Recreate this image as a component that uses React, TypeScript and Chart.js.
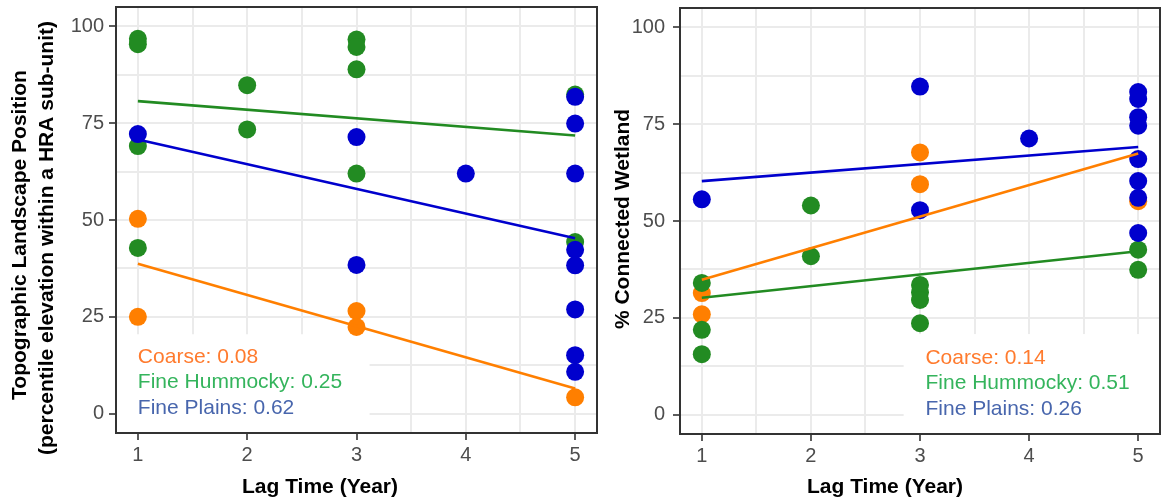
import React, { useEffect, useRef } from 'react';
import { Chart, registerables } from 'chart.js';

Chart.register(...registerables);

// ---- shared axes -------------------------------------------------------
const xMajorTicks = [1, 2, 3, 4, 5];
const xTickLabels = ['1', '2', '3', '4', '5'];
const xMinorTicks = [1.5, 2.5, 3.5, 4.5];
const yMajorTicks = [0, 25, 50, 75, 100];
const yTickLabels = ['0', '25', '50', '75', '100'];
const yMinorTicks = [12.5, 37.5, 62.5, 87.5];
const xTitle = 'Lag Time (Year)';

const groupNames = ['Coarse', 'Fine Hummocky', 'Fine Plains'];
const pointColors = ['#ff7f00', '#228b22', '#0000cd'];
const labelColors = ['#ff7b2e', '#34b45c', '#4866ad'];
const labelYValues = [14.7, 8.0, 1.4];

// ---- topographic landscape position -----------------------------------
const topoCoarseLag = [1, 1, 3, 3, 5];
const topoCoarseValue = [50.3, 25.0, 26.5, 22.4, 4.2];
const topoHummockyLag = [1, 1, 1, 1, 2, 2, 3, 3, 3, 3, 5, 5];
const topoHummockyValue = [96.8, 95.4, 69.1, 42.8, 84.8, 73.4, 96.6, 94.7, 88.9, 62.0, 82.4, 44.3];
const topoPlainsLag = [1, 3, 3, 4, 5, 5, 5, 5, 5, 5, 5, 5];
const topoPlainsValue = [72.2, 71.4, 38.4, 62.0, 81.8, 74.9, 62.0, 42.3, 38.3, 26.9, 15.1, 10.8];
const topoFitAtLag1 = [38.7, 80.7, 70.8];
const topoFitAtLag5 = [6.5, 71.8, 45.3];
const topoR2 = ['0.08', '0.25', '0.62'];
const topoYTitle = ['Topographic Landscape Position', '(percentile elevation within a HRA sub-unit)'];

// ---- connected wetland --------------------------------------------------
const wetCoarseLag = [1, 1, 3, 3, 5];
const wetCoarseValue = [31.4, 25.9, 67.7, 59.5, 55.1];
const wetHummockyLag = [1, 1, 1, 2, 2, 3, 3, 3, 3, 5, 5];
const wetHummockyValue = [34.0, 21.9, 15.6, 54.0, 40.9, 33.5, 31.6, 29.6, 23.6, 42.6, 37.4];
const wetPlainsLag = [1, 3, 3, 4, 5, 5, 5, 5, 5, 5, 5, 5];
const wetPlainsValue = [55.6, 84.7, 52.8, 71.3, 83.3, 81.5, 76.8, 74.6, 66.0, 60.3, 56.0, 46.9];
const wetFitAtLag1 = [34.8, 30.2, 60.3];
const wetFitAtLag5 = [67.4, 42.2, 69.1];
const wetR2 = ['0.14', '0.51', '0.26'];
const wetYTitle = ['% Connected Wetland'];

const FONT = '"Liberation Sans", Arial, Helvetica, sans-serif';
const GRID = '#ebebeb';
const FRAME = '#333333';
const HEIGHT = 501;

type TitleLine = { text: string; baselineX: number; centerY: number };

type PanelDef = {
  left: number;
  width: number;
  areaLeft: number;
  areaRight: number;
  areaTop: number;
  areaBottom: number;
  yTickPadding: number;
  lags: number[][];
  values: number[][];
  fit1: number[];
  fit5: number[];
  r2: string[];
  labelX: number;
  box: { xMin: number; xMax: number; yMax: number };
  yTitle: TitleLine[];
  xTitleCenter: number;
};

const panels: PanelDef[] = [
  {
    left: 0,
    width: 600,
    areaLeft: 116,
    areaRight: 597,
    areaTop: 7,
    areaBottom: 433,
    yTickPadding: 5,
    lags: [topoCoarseLag, topoHummockyLag, topoPlainsLag],
    values: [topoCoarseValue, topoHummockyValue, topoPlainsValue],
    fit1: topoFitAtLag1,
    fit5: topoFitAtLag5,
    r2: topoR2,
    labelX: 1,
    box: { xMin: 0.8, xMax: 3.12, yMax: 20.5 },
    yTitle: [
      { text: topoYTitle[0], baselineX: 26, centerY: 235 },
      { text: topoYTitle[1], baselineX: 52.5, centerY: 238 },
    ],
    xTitleCenter: 320,
  },
  {
    left: 600,
    width: 561,
    areaLeft: 80,
    areaRight: 560,
    areaTop: 8,
    areaBottom: 434,
    yTickPadding: 8,
    lags: [wetCoarseLag, wetHummockyLag, wetPlainsLag],
    values: [wetCoarseValue, wetHummockyValue, wetPlainsValue],
    fit1: wetFitAtLag1,
    fit5: wetFitAtLag5,
    r2: wetR2,
    labelX: 3.05,
    box: { xMin: 2.85, xMax: 5.2, yMax: 20.8 },
    yTitle: [{ text: wetYTitle[0], baselineX: 29, centerY: 219 }],
    xTitleCenter: 285,
  },
];

function isMajor(list: number[], v: number) {
  return list.some((m) => Math.abs(m - v) < 1e-6);
}

function Panel({ def }: { def: PanelDef }) {
  const canvasRef = useRef<HTMLCanvasElement | null>(null);

  useEffect(() => {
    const canvas = canvasRef.current;
    if (!canvas) return;

    // fitted lines first (drawn on top), then blue, green, orange points
    const fitSets = [0, 1, 2].map((g) => ({
      label: groupNames[g] + ' fit',
      data: [
        { x: 1, y: def.fit1[g] },
        { x: 5, y: def.fit5[g] },
      ],
      showLine: true,
      borderColor: pointColors[g],
      borderWidth: 2.6,
      pointRadius: 0,
      fill: false,
      order: 0,
    }));
    const pointSets = [0, 1, 2].map((g) => ({
      label: groupNames[g],
      data: def.lags[g].map((x, i) => ({ x, y: def.values[g][i] })),
      showLine: false,
      backgroundColor: pointColors[g],
      borderColor: pointColors[g],
      borderWidth: 0,
      pointRadius: 9,
      order: 3 - g,
    }));

    const decor = {
      id: 'panelDecor',
      beforeDatasetsDraw(chart: any) {
        const { ctx, chartArea, scales } = chart;
        const xs = scales.x;
        const ys = scales.y;
        ctx.save();
        const x0 = Math.max(chartArea.left, xs.getPixelForValue(def.box.xMin));
        const x1 = Math.min(chartArea.right, xs.getPixelForValue(def.box.xMax));
        const y0 = ys.getPixelForValue(def.box.yMax);
        ctx.fillStyle = '#ffffff';
        ctx.fillRect(x0, y0, x1 - x0, chartArea.bottom - y0);
        ctx.font = `21px ${FONT}`;
        ctx.textAlign = 'left';
        ctx.textBaseline = 'middle';
        for (let g = 0; g < 3; g++) {
          ctx.fillStyle = labelColors[g];
          ctx.fillText(
            `${groupNames[g]}: ${def.r2[g]}`,
            xs.getPixelForValue(def.labelX),
            ys.getPixelForValue(labelYValues[g])
          );
        }
        ctx.restore();
      },
      afterDraw(chart: any) {
        const { ctx, chartArea } = chart;
        ctx.save();
        ctx.strokeStyle = FRAME;
        ctx.lineWidth = 2;
        ctx.strokeRect(
          chartArea.left,
          chartArea.top,
          chartArea.right - chartArea.left,
          chartArea.bottom - chartArea.top
        );
        ctx.fillStyle = '#000000';
        ctx.font = `bold 21px ${FONT}`;
        ctx.textAlign = 'center';
        ctx.textBaseline = 'alphabetic';
        ctx.fillText(xTitle, def.xTitleCenter, 493);
        for (const line of def.yTitle) {
          ctx.save();
          ctx.translate(line.baselineX, line.centerY);
          ctx.rotate(-Math.PI / 2);
          ctx.fillText(line.text, 0, 0);
          ctx.restore();
        }
        ctx.restore();
      },
    };

    const chart = new Chart(canvas, {
      type: 'scatter',
      data: { datasets: [...fitSets, ...pointSets] as any },
      options: {
        responsive: false,
        animation: false,
        events: [],
        layout: {
          autoPadding: false,
          padding: { left: 0, right: def.width - def.areaRight, top: def.areaTop, bottom: 0 },
        },
        plugins: { legend: { display: false }, tooltip: { enabled: false } },
        scales: {
          x: {
            type: 'linear',
            min: 0.8,
            max: 5.2,
            afterBuildTicks: (s: any) => {
              s.ticks = [...xMajorTicks, ...xMinorTicks].sort((a, b) => a - b).map((v) => ({ value: v }));
            },
            afterFit: (s: any) => {
              s.height = HEIGHT - def.areaBottom;
              s.paddingLeft = 0;
              s.paddingRight = 0;
            },
            border: { display: false },
            grid: {
              color: GRID,
              lineWidth: 2,
              tickLength: 7,
              tickWidth: 1.6,
              tickColor: (c: any) => (c.tick && isMajor(xMajorTicks, c.tick.value) ? FRAME : 'rgba(0,0,0,0)'),
            },
            ticks: {
              autoSkip: false,
              maxRotation: 0,
              minRotation: 0,
              padding: 3,
              color: '#4d4d4d',
              font: { family: FONT, size: 20 },
              callback: (v: any) => {
                const i = xMajorTicks.findIndex((m) => Math.abs(m - Number(v)) < 1e-6);
                return i >= 0 ? xTickLabels[i] : '';
              },
            },
          },
          y: {
            type: 'linear',
            min: -5,
            max: 105,
            afterBuildTicks: (s: any) => {
              s.ticks = [...yMajorTicks, ...yMinorTicks].sort((a, b) => a - b).map((v) => ({ value: v }));
            },
            afterFit: (s: any) => {
              s.width = def.areaLeft;
              s.paddingTop = 0;
              s.paddingBottom = 0;
            },
            border: { display: false },
            grid: {
              color: GRID,
              lineWidth: 2,
              tickLength: 7,
              tickWidth: 1.6,
              tickColor: (c: any) => (c.tick && isMajor(yMajorTicks, c.tick.value) ? FRAME : 'rgba(0,0,0,0)'),
            },
            ticks: {
              autoSkip: false,
              padding: def.yTickPadding,
              color: '#4d4d4d',
              font: { family: FONT, size: 20 },
              callback: (v: any) => {
                const i = yMajorTicks.findIndex((m) => Math.abs(m - Number(v)) < 1e-6);
                return i >= 0 ? yTickLabels[i] : '';
              },
            },
          },
        },
      } as any,
      plugins: [decor],
    });

    return () => chart.destroy();
  }, [def]);

  return (
    <canvas
      ref={canvasRef}
      width={def.width}
      height={HEIGHT}
      style={{ position: 'absolute', left: def.left, top: 0, width: def.width, height: HEIGHT, display: 'block' }}
    />
  );
}

export default function App() {
  return (
    <div style={{ position: 'absolute', left: 0, top: 0, width: 1161, height: HEIGHT, background: '#ffffff' }}>
      {panels.map((p, i) => (
        <Panel key={i} def={p} />
      ))}
    </div>
  );
}
